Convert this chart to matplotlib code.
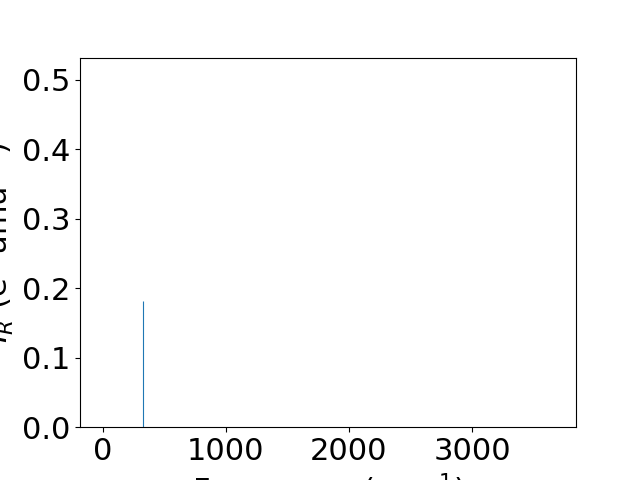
import numpy as np
import matplotlib
matplotlib.use("Agg")
import matplotlib.pyplot as plt

plt.rcParams['font.size'] = 22

# vibrational modes (cm^-1) and IR intensities
frequencies = [0, 120, 325, 480, 760, 1100, 1450, 1720, 2200, 2950, 3050, 3660]
intensities = [0.0, 0.0, 0.182, 0.0, 0.0, 0.0, 0.0, 0.0, 0.0, 0.0, 0.0, 0.0]

fig, ax = plt.subplots(figsize=(6.4, 4.8), dpi=100)
ax.vlines(frequencies, 0, intensities, color="C0", linewidth=0.8)
ax.set_ylim(0, 0.532)
ax.set_xlabel("Frequency (cm$^{-1}$)")
ax.set_ylabel("$I_R$ (e$^2$ amu$^{-1}$)")
fig.savefig("out.png")
